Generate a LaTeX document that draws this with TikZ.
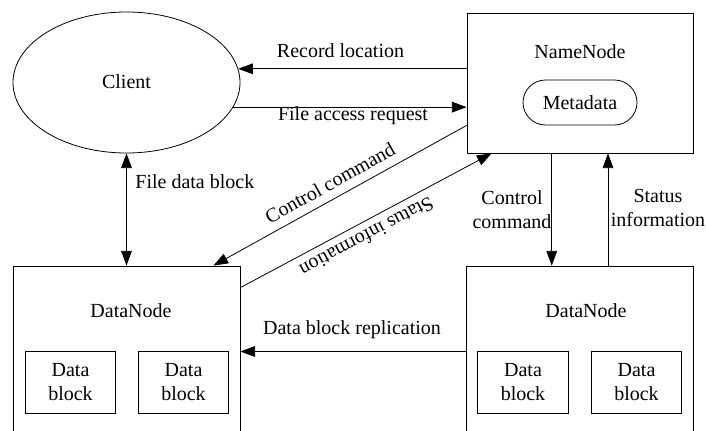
\documentclass[tikz,border=0pt]{standalone}
\usepackage{fontspec}
\setmainfont{Liberation Serif}
\usetikzlibrary{arrows.meta,shapes.geometric,shapes.misc}
\begin{document}
\begin{tikzpicture}[x=0.75pt,y=-0.75pt,
  font=\fontsize{15}{18}\selectfont,
  line width=0.6pt,
  arr/.style={draw=black,-{Triangle[length=11pt,width=8pt]}},
  darr/.style={draw=black,{Triangle[length=11pt,width=8pt]}-{Triangle[length=11pt,width=8pt]}},
  bigbox/.style={draw,rectangle,inner sep=0pt,minimum width=170.25pt},
  blockbox/.style={draw,rectangle,inner sep=0pt,minimum width=68pt,minimum height=46.5pt,align=center},
  lbl/.style={inner sep=0pt,align=center}]
\useasboundingbox (0,0) rectangle (706,431);
\clip (0,0) rectangle (706,431);
% nodes
\node[draw,ellipse,inner sep=0pt,minimum width=170.25pt,minimum height=105.75pt] (client) at (126.5,82.5) {};
\node[lbl] (clientlbl) at (126.5,82) {Client};
\node[bigbox,minimum width=169.5pt,minimum height=105pt] (nn) at (580,83) {};
\node[lbl] (nnlbl) at (580,52) {NameNode};
\node[draw,rounded rectangle,inner sep=0pt,minimum width=85.5pt,minimum height=33.75pt] (meta) at (580,102.5) {Metadata};
\node[bigbox,minimum height=135pt] (dnl) at (126.5,356) {};
\node[lbl] (dnllbl) at (131,311) {DataNode};
\node[blockbox] (b1) at (70.5,382) {Data\\block};
\node[blockbox] (b2) at (183.5,382) {Data\\block};
\node[bigbox,minimum height=135pt] (dnr) at (579.5,356) {};
\node[lbl] (dnrlbl) at (586,311) {DataNode};
\node[blockbox] (b3) at (523,382) {Data\\block};
\node[blockbox] (b4) at (636.5,382) {Data\\block};
% connectors
\draw[arr] (nn.west |- client.7) -- (client.7);
\draw[arr] (client.-13.5) -- (client.-13.5 -| nn.west);
\draw[darr] (client.south) -- (dnl.north);
\draw[arr] ([yshift=21pt]nn.south west) -- ([xshift=-20.25pt]dnl.north east);
\draw[arr] ([yshift=-16.5pt]dnl.north east) -- ([xshift=18.75pt]nn.south west);
\draw[arr] ([xshift=-21.2pt]nn.south) -- ([xshift=-21.2pt]nn.south |- dnr.north);
\draw[arr] ([xshift=21pt]nn.south |- dnr.north) -- ([xshift=21pt]nn.south);
\coordinate (rep) at (0,351.5);
\draw[arr] (rep -| dnr.west) -- (rep -| dnl.east);
% labels
\node[lbl] (l1) at (340.5,51) {Record location};
\node[lbl] (l2) at (353,116) {File access request};
\node[lbl,anchor=west] (l3) at (135,182) {File data block};
\node[lbl,rotate=29] (l4) at (330,183) {Control command};
\node[lbl,rotate=208] (l5) at (367,237) {Status information};
\node[lbl] (l6) at (512,210) {Control\\command};
\node[lbl] (l7) at (658,208) {Status\\information};
\node[lbl] (l8) at (352,330) {Data block replication};
\end{tikzpicture}
\end{document}
